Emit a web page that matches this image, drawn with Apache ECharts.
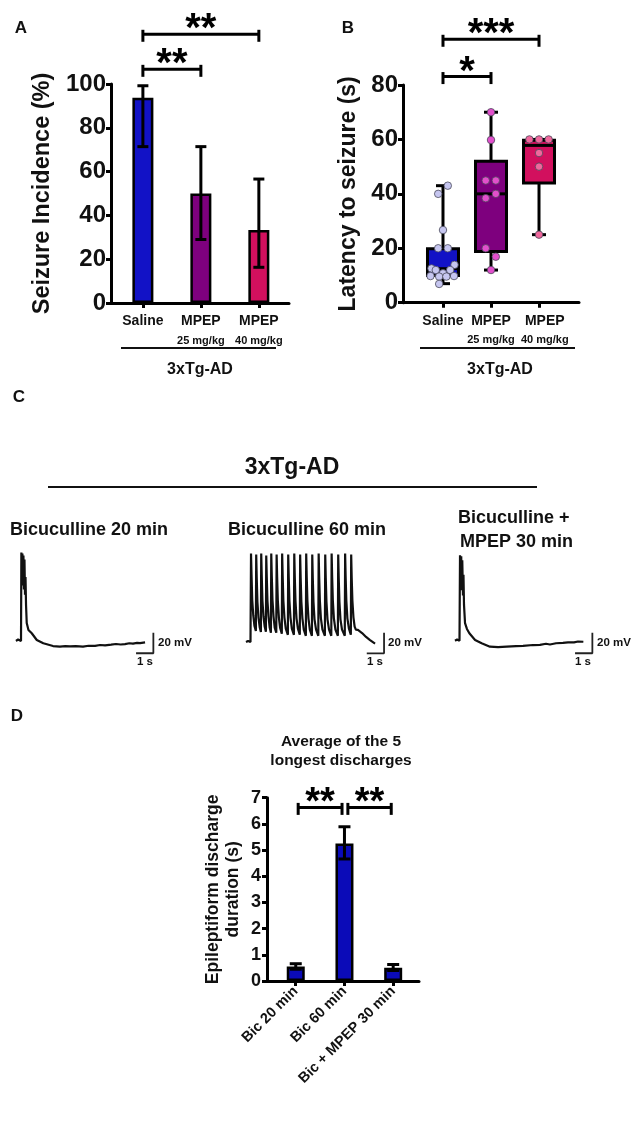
<!DOCTYPE html>
<html>
<head>
<meta charset="utf-8">
<script src="https://cdn.jsdelivr.net/npm/echarts@6/dist/echarts.min.js"></script>
<style>
  html, body { margin: 0; padding: 0; background: #fff; }
  #main { width: 638px; height: 1122px; }
</style>
</head>
<body>
<div id="main"></div>
<script>
const FONT = 'Arial, "Liberation Sans", Helvetica, sans-serif'

// ---- panel A : seizure incidence ----
const groupsAB = ['Saline', 'MPEP', 'MPEP']
const dosesAB = ['', '25 mg/kg', '40 mg/kg']
const colorsAB = ['#1212c6', '#7e007e', '#d2105e']
const incidence = [93.7, 50, 33.3]
const incidenceLow = [71.4, 29, 16.3]
const incidenceHigh = [99.2, 71.4, 56.6]
// [from, to, level, stars]
const sigA = [[0, 1, 106.7, '**'], [0, 2, 122.7, '**']]

// ---- panel B : latency to seizure ----
// [min, q1, median, q3, max]
const latencyBox = [
  [7, 10, 12.5, 19.8, 43],
  [12, 18.8, 40, 52, 70],
  [25, 44, 57.8, 59.7, 60]
]
// [x offset from group, seconds]
const latencySaline = [
  [0.10, 43], [-0.10, 40], [0, 26.7], [-0.10, 20], [0.10, 20], [0.24, 13.9], [-0.24, 12.6],
  [-0.15, 12], [0.15, 12], [0, 10.8], [-0.26, 9.8], [-0.08, 9.6], [0.07, 9.6], [0.23, 9.8], [-0.08, 6.9]
]
const latency25 = [
  [0, 70], [0, 59.8], [-0.11, 44.9], [0.10, 44.9], [0.10, 40], [-0.11, 38.4], [-0.11, 20], [0.10, 16.9], [0, 12]
]
const latency40 = [[-0.2, 60], [0, 60], [0.2, 60], [0, 55], [0, 50], [0, 25]]
const pointColors = ['#c6c6f0', '#e24fcc', '#f0679c']
const sigB = [[0, 1, 83.1, '*'], [0, 2, 96.8, '***']]
// label anchors for panel B (the last one sits a little right of its box)
const labelPosB = [0, 1, 2.12]

// ---- panel C : traces (s, mV) ----
const trace20 = [
  [0, 0], [0.12, 1.5], [0.23, 0.5], [0.29, 0],
  [0.31, 86], [0.35, 59], [0.37, 85], [0.40, 54], [0.43, 83], [0.46, 50], [0.49, 79], [0.52, 45], [0.55, 62], [0.58, 35],
  [0.62, 17.5], [0.72, 10.7], [0.91, 7.5], [1.20, 1], [1.58, -2.2], [2.14, -4.9], [2.54, -5.5], [2.85, -4.9],
  [3.12, -5.3], [3.45, -5.0], [3.87, -5.5], [4.20, -4.6], [4.57, -4.8], [4.86, -3.9], [5.15, -4.3], [5.50, -3.6],
  [5.78, -2.9], [6.05, -3.4], [6.30, -3.0], [6.55, -2.2], [6.76, -2.6], [7.00, -1.8], [7.17, -2.0], [7.46, -1.3]
]
const trace60 = [
  [0, 0], [0.12, 1], [0.26, 0],
  [0.29, 86], [0.32, 65], [0.36, 41], [0.42, 26], [0.49, 15.5], [0.57, 10.7],
  [0.59, 85], [0.62, 62], [0.66, 39], [0.72, 24], [0.79, 14.6], [0.86, 9.7],
  [0.88, 86], [0.91, 64], [0.95, 40], [1.01, 25], [1.08, 15], [1.15, 10],
  [1.17, 84], [1.20, 63], [1.24, 40], [1.30, 25], [1.37, 14], [1.44, 9],
  [1.46, 86], [1.49, 64], [1.53, 41], [1.59, 25], [1.66, 14], [1.75, 9],
  [1.77, 85], [1.80, 63], [1.84, 40], [1.90, 24], [1.97, 14], [2.07, 8],
  [2.09, 86], [2.12, 64], [2.16, 40], [2.22, 24], [2.30, 13], [2.42, 7],
  [2.44, 85], [2.47, 63], [2.51, 40], [2.57, 24], [2.65, 13], [2.77, 7],
  [2.79, 86], [2.82, 63], [2.86, 40], [2.92, 23], [3.00, 13], [3.11, 7],
  [3.13, 85], [3.16, 62], [3.20, 39], [3.26, 23], [3.34, 12], [3.46, 6],
  [3.48, 86], [3.51, 63], [3.55, 40], [3.61, 23], [3.69, 12], [3.81, 6],
  [3.83, 85], [3.86, 62], [3.90, 39], [3.96, 22], [4.05, 12], [4.18, 6],
  [4.20, 86], [4.23, 63], [4.27, 40], [4.33, 23], [4.42, 12], [4.56, 6],
  [4.58, 85], [4.61, 62], [4.65, 39], [4.71, 22], [4.80, 12], [4.93, 6],
  [4.95, 86], [4.98, 63], [5.02, 40], [5.08, 23], [5.17, 12], [5.31, 6],
  [5.33, 85], [5.36, 62], [5.40, 39], [5.46, 22], [5.55, 12], [5.71, 6],
  [5.73, 86], [5.76, 63], [5.80, 40], [5.86, 23], [5.95, 13], [6.06, 7],
  [6.08, 85], [6.11, 62], [6.15, 40], [6.21, 24], [6.28, 15], [6.35, 12],
  [6.47, 11.7], [6.71, 8.7], [6.94, 4.9], [7.17, 1.9], [7.46, -1.5]
]
const traceMpep = [
  [0, 0], [0.12, 1.2], [0.26, 0],
  [0.29, 83], [0.33, 54], [0.36, 82], [0.39, 49], [0.42, 78], [0.46, 44], [0.49, 64], [0.52, 35],
  [0.58, 17], [0.69, 11.4], [0.83, 7.2], [1.16, 0.7], [1.54, -2.5], [2.02, -5.8], [2.49, -6.3], [2.99, -5.8],
  [3.53, -5.3], [3.93, -5.1], [4.51, -4.2], [4.91, -4.0], [5.26, -3.0], [5.49, -3.7], [5.84, -2.5],
  [6.24, -2.2], [6.53, -1.7], [6.88, -1.6], [7.11, -0.8], [7.42, -1.0]
]
// scale bars: 1 s horizontal, 20 mV vertical
const scaleBar20 = [[6.94, -11.9], [7.94, -11.9], [7.94, 8.1]]
const scaleBar60 = [[6.98, -11], [7.98, -11], [7.98, 9]]
const scaleBarMpep = [[6.94, -12.2], [7.94, -12.2], [7.94, 7.8]]

// ---- panel D : discharge duration ----
const groupsD = ['Bic 20 min', 'Bic 60 min', 'Bic + MPEP 30 min']
const duration = [0.55, 5.25, 0.51]
const durationLow = [0.45, 4.66, 0.40]
const durationHigh = [0.66, 5.89, 0.63]
const sigD = [[0.05, 0.95, 6.63, '**'], [1.07, 1.96, 6.63, '**']]

const lineStyle3 = { stroke: '#000', lineWidth: 3 }

function errorBarRenderer (half) {
  return function (params, api) {
    const x = api.value(0)
    const lo = api.coord([x, api.value(1)])
    const hi = api.coord([x, api.value(2)])
    return {
      type: 'group',
      children: [
        { type: 'line', shape: { x1: lo[0], y1: lo[1], x2: hi[0], y2: hi[1] }, style: lineStyle3 },
        { type: 'line', shape: { x1: hi[0] - half, y1: hi[1], x2: hi[0] + half, y2: hi[1] }, style: lineStyle3 },
        { type: 'line', shape: { x1: lo[0] - half, y1: lo[1], x2: lo[0] + half, y2: lo[1] }, style: lineStyle3 }
      ]
    }
  }
}

function bracketRenderer (list, starSize) {
  return function (params, api) {
    const a = api.coord([api.value(0), api.value(2)])
    const b = api.coord([api.value(1), api.value(2)])
    return {
      type: 'group',
      children: [
        { type: 'line', shape: { x1: a[0], y1: a[1], x2: b[0], y2: b[1] }, style: lineStyle3 },
        { type: 'line', shape: { x1: a[0], y1: a[1] - 4.5, x2: a[0], y2: a[1] + 7.5 }, style: lineStyle3 },
        { type: 'line', shape: { x1: b[0], y1: b[1] - 4.5, x2: b[0], y2: b[1] + 7.5 }, style: lineStyle3 },
        {
          type: 'text',
          x: (a[0] + b[0]) / 2,
          y: a[1] - 4,
          style: {
            text: list[params.dataIndex][3], fill: '#000', fontSize: starSize, fontWeight: 'bold',
            fontFamily: FONT, align: 'center', verticalAlign: 'middle'
          }
        }
      ]
    }
  }
}

function renderBox (params, api) {
  const x = api.value(0)
  const pMin = api.coord([x, api.value(1)])
  const yQ1 = api.coord([x, api.value(2)])[1]
  const yMed = api.coord([x, api.value(3)])[1]
  const yQ3 = api.coord([x, api.value(4)])[1]
  const yMax = api.coord([x, api.value(5)])[1]
  const cx = pMin[0]
  const half = 15.5
  const cap = 7
  return {
    type: 'group',
    children: [
      { type: 'line', shape: { x1: cx, y1: yMax, x2: cx, y2: yQ3 }, style: lineStyle3 },
      { type: 'line', shape: { x1: cx, y1: yQ1, x2: cx, y2: pMin[1] }, style: lineStyle3 },
      { type: 'line', shape: { x1: cx - cap, y1: yMax, x2: cx + cap, y2: yMax }, style: lineStyle3 },
      { type: 'line', shape: { x1: cx - cap, y1: pMin[1], x2: cx + cap, y2: pMin[1] }, style: lineStyle3 },
      {
        type: 'rect',
        shape: { x: cx - half, y: yQ3, width: half * 2, height: yQ1 - yQ3 },
        style: { fill: colorsAB[params.dataIndex], stroke: '#000', lineWidth: 3 }
      },
      { type: 'line', shape: { x1: cx - half, y1: yMed, x2: cx + half, y2: yMed }, style: lineStyle3 }
    ]
  }
}

const axisLineBlack = { show: true, onZero: false, lineStyle: { color: '#000', width: 3 } }
const tickBlack = { show: true, length: 5, lineStyle: { color: '#000', width: 3 } }
const catRich = {
  g: { fontSize: 14, fontWeight: 'bold', fontFamily: FONT, color: '#111', lineHeight: 19 },
  d: { fontSize: 11, fontWeight: 'bold', fontFamily: FONT, color: '#111', lineHeight: 19 }
}
function catLabel (v) {
  const i = Math.round(v)
  return dosesAB[i] ? '{g|' + groupsAB[i] + '}\n{d|' + dosesAB[i] + '}' : '{g|' + groupsAB[i] + '}'
}

function traceAxis (i) {
  return [
    { type: 'value', gridIndex: i, min: 0, max: 10, show: false },
    { type: 'value', gridIndex: i, min: -20, max: 90, show: false }
  ]
}

const txt = (x, y, text, size, align, vAlign) => ({
  type: 'text', x, y,
  style: {
    text, fill: '#111', fontSize: size, fontWeight: 'bold', fontFamily: FONT,
    align: align || 'center', verticalAlign: vAlign || 'middle', lineHeight: 19
  }
})
const hline = (x1, x2, y, w) => ({
  type: 'line', shape: { x1, y1: y, x2, y2: y }, style: { stroke: '#111', lineWidth: w || 2 }
})

const c1 = traceAxis(3)
const c2 = traceAxis(4)
const c3 = traceAxis(5)

const option = {
  animation: false,
  backgroundColor: '#fff',
  grid: [
    { left: 111, top: 84, width: 178, height: 219 },
    { left: 403, top: 85, width: 176, height: 217.7 },
    { left: 267, top: 797.7, width: 152, height: 183.3 },
    { left: 16, top: 548.3, width: 173, height: 113.3 },
    { left: 246, top: 549.3, width: 173, height: 113.3 },
    { left: 455, top: 548, width: 173, height: 113.3 }
  ],
  xAxis: [
    {
      type: 'value', gridIndex: 0, min: -0.55, max: 2.52,
      axisLine: axisLineBlack, axisTick: { ...tickBlack, customValues: [0, 1, 2] },
      splitLine: { show: false },
      axisLabel: { customValues: [0, 1, 2], hideOverlap: false, margin: 9, formatter: catLabel, rich: catRich }
    },
    {
      type: 'value', gridIndex: 1, min: -0.833, max: 2.833,
      axisLine: axisLineBlack, axisTick: { ...tickBlack, customValues: [0, 1, 2] },
      splitLine: { show: false },
      axisLabel: { customValues: labelPosB, hideOverlap: false, margin: 9, formatter: catLabel, rich: catRich }
    },
    {
      type: 'value', gridIndex: 2, min: -0.59, max: 2.53,
      axisLine: axisLineBlack, axisTick: { ...tickBlack, customValues: [0, 1, 2] },
      splitLine: { show: false },
      axisLabel: {
        customValues: [0, 1, 2], hideOverlap: false, margin: 8, rotate: 45, formatter: (v) => groupsD[v],
        fontSize: 14.5, fontWeight: 'bold', fontFamily: FONT, color: '#111'
      }
    },
    c1[0], c2[0], c3[0]
  ],
  yAxis: [
    {
      type: 'value', gridIndex: 0, min: 0, max: 100, interval: 20,
      axisLine: axisLineBlack, axisTick: tickBlack, splitLine: { show: false },
      axisLabel: { margin: 5, fontSize: 24, fontWeight: 'bold', fontFamily: FONT, color: '#111' },
      name: 'Seizure Incidence (%)', nameLocation: 'middle', nameGap: 56,
      nameTextStyle: { fontSize: 23.5, fontWeight: 'bold', fontFamily: FONT, color: '#111' }
    },
    {
      type: 'value', gridIndex: 1, min: 0, max: 80, interval: 20,
      axisLine: axisLineBlack, axisTick: tickBlack, splitLine: { show: false },
      axisLabel: { margin: 5, fontSize: 24, fontWeight: 'bold', fontFamily: FONT, color: '#111' },
      name: 'Latency to seizure (s)', nameLocation: 'middle', nameGap: 43,
      nameTextStyle: { fontSize: 23, fontWeight: 'bold', fontFamily: FONT, color: '#111' }
    },
    {
      type: 'value', gridIndex: 2, min: 0, max: 7, interval: 1,
      axisLine: axisLineBlack, axisTick: tickBlack, splitLine: { show: false },
      axisLabel: { margin: 6, fontSize: 18, fontWeight: 'bold', fontFamily: FONT, color: '#111' },
      name: 'Epileptiform discharge\nduration (s)', nameLocation: 'middle', nameGap: 24,
      nameTextStyle: { fontSize: 17.5, fontWeight: 'bold', fontFamily: FONT, color: '#111', lineHeight: 20 }
    },
    c1[1], c2[1], c3[1]
  ],
  series: [
    // A
    {
      type: 'bar', xAxisIndex: 0, yAxisIndex: 0, barWidth: 21,
      data: incidence.map((v, i) => ({ value: [i, v], itemStyle: { color: colorsAB[i] } })),
      itemStyle: { borderColor: '#000', borderWidth: 2.5 }
    },
    {
      type: 'custom', xAxisIndex: 0, yAxisIndex: 0, z: 5, clip: false,
      renderItem: errorBarRenderer(5.5),
      data: incidence.map((v, i) => [i, incidenceLow[i], incidenceHigh[i]])
    },
    {
      type: 'custom', xAxisIndex: 0, yAxisIndex: 0, z: 5, clip: false,
      renderItem: bracketRenderer(sigA, 40),
      data: sigA.map((s) => [s[0], s[1], s[2]])
    },
    // B
    {
      type: 'custom', xAxisIndex: 1, yAxisIndex: 1, z: 3, clip: false,
      renderItem: renderBox,
      data: latencyBox.map((b, i) => [i].concat(b))
    },
    ...[latencySaline, latency25, latency40].map((pts, g) => ({
      type: 'scatter', xAxisIndex: 1, yAxisIndex: 1, z: 6, symbolSize: 7.5,
      itemStyle: { color: pointColors[g], borderColor: '#4a4a5a', borderWidth: 0.8, opacity: 1 },
      data: pts.map((p) => [g + p[0], p[1]])
    })),
    {
      type: 'custom', xAxisIndex: 1, yAxisIndex: 1, z: 5, clip: false,
      renderItem: bracketRenderer(sigB, 40),
      data: sigB.map((s) => [s[0], s[1], s[2]])
    },
    // D
    {
      type: 'bar', xAxisIndex: 2, yAxisIndex: 2, barWidth: 18,
      data: duration.map((v, i) => [i, v]),
      itemStyle: { color: '#0b0bb8', borderColor: '#000', borderWidth: 2.5 }
    },
    {
      type: 'custom', xAxisIndex: 2, yAxisIndex: 2, z: 5, clip: false,
      renderItem: errorBarRenderer(6),
      data: duration.map((v, i) => [i, durationLow[i], durationHigh[i]])
    },
    {
      type: 'custom', xAxisIndex: 2, yAxisIndex: 2, z: 5, clip: false,
      renderItem: bracketRenderer(sigD, 38),
      data: sigD.map((s) => [s[0], s[1], s[2]])
    },
    // C traces
    ...[trace20, trace60, traceMpep].map((tr, i) => ({
      type: 'line', xAxisIndex: 3 + i, yAxisIndex: 3 + i, data: tr, showSymbol: false,
      lineStyle: { color: '#111', width: 2.2 }, clip: false
    })),
    ...[scaleBar20, scaleBar60, scaleBarMpep].map((sb, i) => ({
      type: 'line', xAxisIndex: 3 + i, yAxisIndex: 3 + i, data: sb, showSymbol: false,
      lineStyle: { color: '#222', width: 1.8 }, clip: false
    }))
  ],
  graphic: {
    elements: [
      txt(21, 28, 'A', 17), txt(348, 28, 'B', 17), txt(19, 397, 'C', 17), txt(17, 716, 'D', 17),
      hline(121, 276, 348, 1.8), hline(420, 575, 348, 1.8),
      txt(200, 370, '3xTg-AD', 16), txt(500, 370, '3xTg-AD', 16),
      txt(292, 468, '3xTg-AD', 23), hline(48, 537, 487, 2.2),
      txt(89, 530, 'Bicuculline 20 min', 18), txt(307, 530, 'Bicuculline 60 min', 18),
      txt(458, 518, 'Bicuculline +', 18, 'left'), txt(460, 542, 'MPEP 30 min', 18, 'left'),
      txt(158, 643, '20 mV', 11.5, 'left'), txt(145, 662, '1 s', 11.5),
      txt(388, 643, '20 mV', 11.5, 'left'), txt(375, 662, '1 s', 11.5),
      txt(597, 643, '20 mV', 11.5, 'left'), txt(583, 662, '1 s', 11.5),
      txt(341, 751, 'Average of the 5\nlongest discharges', 15.5)
    ]
  }
}

const chart = echarts.init(document.getElementById('main'), null, { renderer: 'canvas' })
chart.setOption(option)
</script>
</body>
</html>
